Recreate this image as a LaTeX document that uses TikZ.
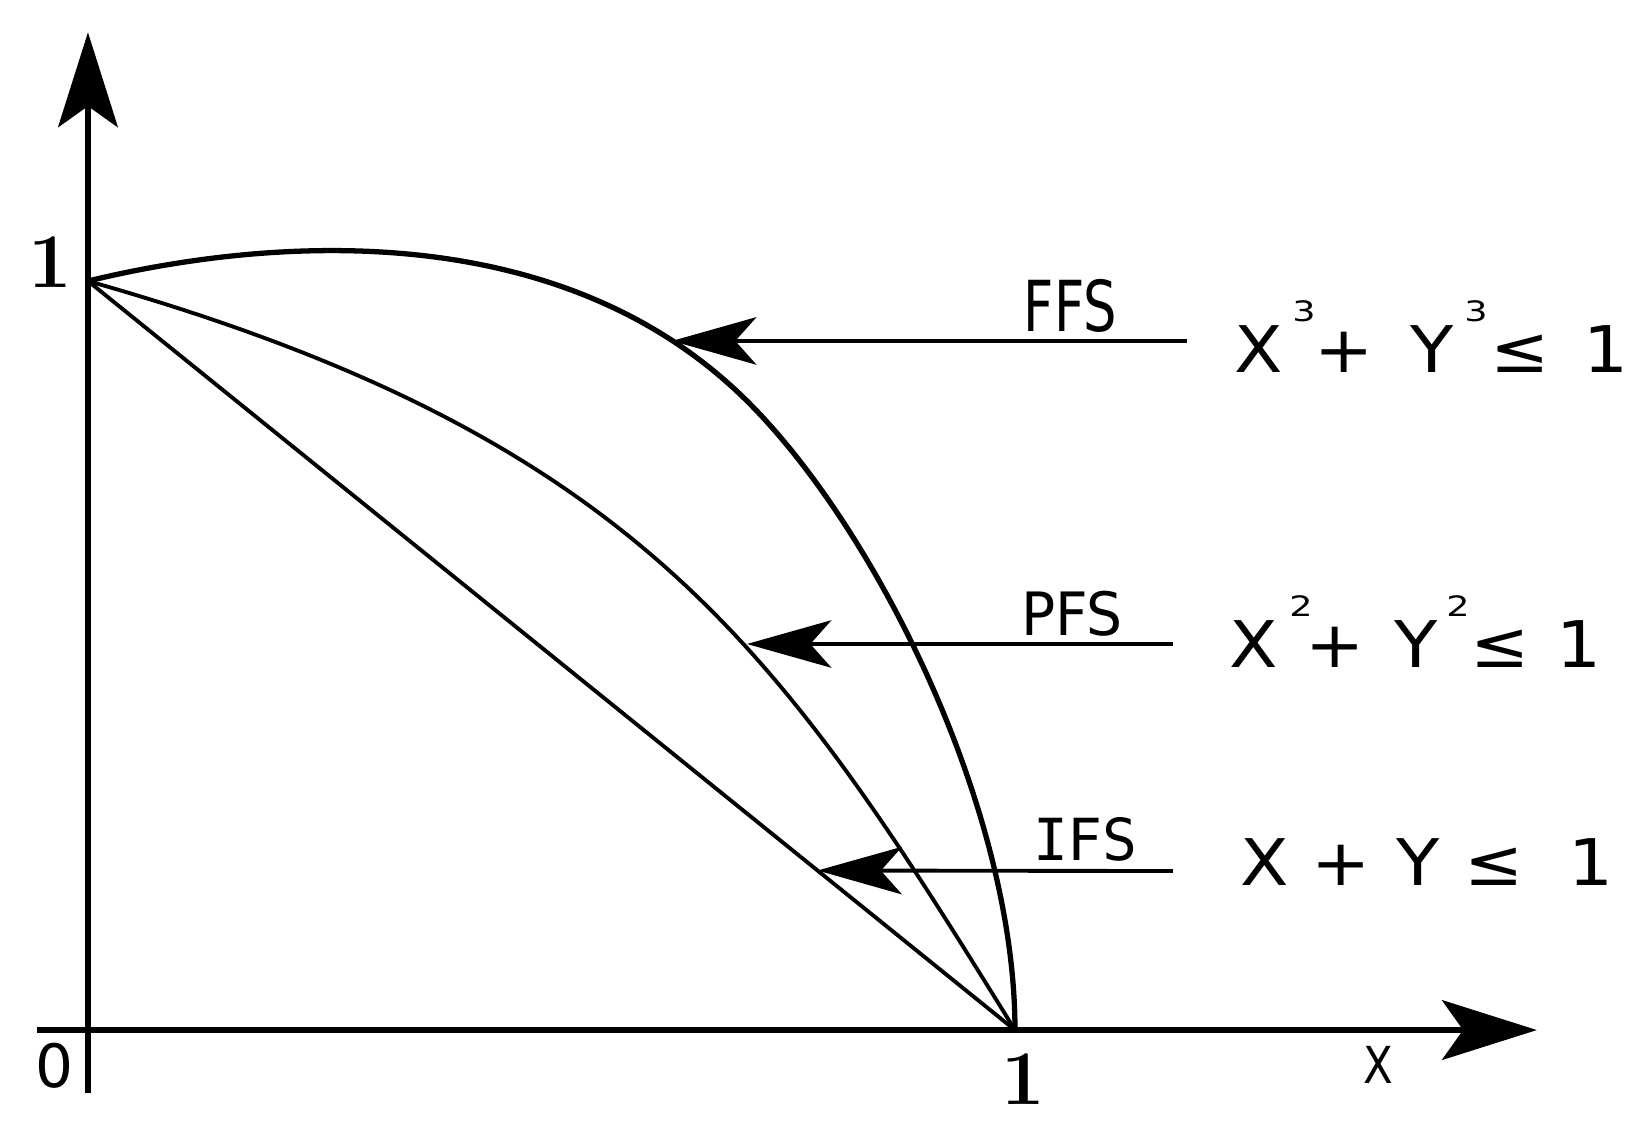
\documentclass[tikz,border=0pt]{standalone}
\usepackage{fontspec}
\usepackage{tikz}
\usetikzlibrary{arrows.meta}
\newfontfamily\eqfont[FakeStretch=1.1]{DejaVu Sans}
\newfontfamily\supfont[FakeStretch=1.3]{DejaVu Sans}
\newfontfamily\tagfont{DejaVu Sans}
\newfontfamily\monofont{DejaVu Sans Mono}
\newfontfamily\narrowfont[FakeStretch=0.85]{DejaVu Sans}
% glyph put at a given offset from the left end of a formula
\newcommand\at[2]{\rlap{\hspace{#1}#2}}
\newcommand\pw[1]{\raisebox{14.5pt}{\supfont\fontsize{8}{8}\selectfont #1}}
\tikzset{
    axis/.style={line width=1.5pt, -{Stealth[length=27pt, width=17pt, inset=6pt]}}, % axes with big heads
    pointer/.style={line width=1.1pt, -{Stealth[length=24pt, width=13.5pt, inset=6pt]}}, % arrows from the labels
    front/.style={line width=1.1pt}, % the three boundaries
    tag/.style={inner sep=0pt},
    law/.style={font=\eqfont\fontsize{18.3}{18.3}\selectfont, anchor=base west, inner sep=0pt},
    tick/.style={font=\bfseries\fontsize{22}{22}\selectfont, inner sep=0pt}
}

\begin{document}
\begin{tikzpicture}[x=9.27cm, y=7.49cm]

    \useasboundingbox (-0.0949,-0.1228) rectangle (1.685,1.3752);

    % axes
    \coordinate (o) at (0,0);
    \coordinate (x start) at (-0.055,0);  \coordinate (x end) at (1.563,0);
    \coordinate (y start) at (0,-0.084);  \coordinate (y end) at (0,1.332);
    \coordinate (one x) at (1,0);
    \coordinate (one y) at (0,1);
    \draw[axis] (x start) -- (x end);
    \draw[axis] (y start) -- (y end);

    \node[tick] (lbl one y) at (-0.041,1.025) {1};
    \node[tick] (lbl one x) at (1.009,-0.065) {1};
    \node[font=\tagfont\fontsize{17}{17}\selectfont, inner sep=0pt] (lbl zero) at (-0.036,-0.048) {0};
    \node[font=\narrowfont\fontsize{14.5}{14.5}\selectfont, inner sep=0pt] (lbl x) at (1.392,-0.047) {X};

    % points hit by the arrows
    \coordinate (ffs tip) at (0.630,0.920);
    \coordinate (pfs tip) at (0.7109,0.5154);
    \coordinate (ifs tip) at (0.787,0.213);
    \coordinate (ffs knee) at (0.7066,0.8451);

    % boundaries
    \draw[front, line width=1.5pt] (one y) .. controls (0.2,1.06) and (0.5066,1.0851) .. (ffs knee)
        .. controls (0.8466,0.6771) and (1,0.3) .. (one x);
    \draw[front] (one y) .. controls (0.6,0.79) and (0.75,0.5) .. (one x);
    \draw[front] (one y) -- (one x);

    % labels and arrows
    \coordinate (ffs from) at (1.1855,0.920);
    \coordinate (pfs from) at (1.1704,0.5154);
    \coordinate (ifs from) at (1.1704,0.2123);
    \draw[pointer] (ffs from) -- (ffs tip);
    \draw[pointer] (pfs from) -- (pfs tip);
    \draw[pointer] (ifs from) -- (ifs tip);

    \node[tag] (ffs) at (1.0599,0.9666) {\tagfont\addfontfeatures{FakeStretch=0.75}\fontsize{20}{20}\selectfont FFS};
    \node[tag] (pfs) at (1.0615,0.5561) {\tagfont\addfontfeatures{FakeStretch=0.95}\fontsize{17}{17}\selectfont PFS};
    \node[tag] (ifs) at (1.0760,0.2550) {\monofont\fontsize{16.5}{16.5}\selectfont IFS};

    \node[law] (ffs law) at (1.2341,0.8785) {\at{0cm}{X}\at{0.58cm}{\pw{3}}\at{0.80cm}{+}\at{1.76cm}{Y}\at{2.30cm}{\pw{3}}\at{2.56cm}{≤}\at{3.49cm}{1}};
    \node[law] (pfs law) at (1.2287,0.4846) {\at{0cm}{X}\at{0.60cm}{\pw{2}}\at{0.76cm}{+}\at{1.65cm}{Y}\at{2.17cm}{\pw{2}}\at{2.41cm}{≤}\at{3.27cm}{1}};
    \node[law] (ifs law) at (1.2406,0.1936) {\at{0cm}{X}\at{0.71cm}{+}\at{1.56cm}{Y}\at{2.24cm}{≤}\at{3.28cm}{1}};

\end{tikzpicture}
\end{document}
